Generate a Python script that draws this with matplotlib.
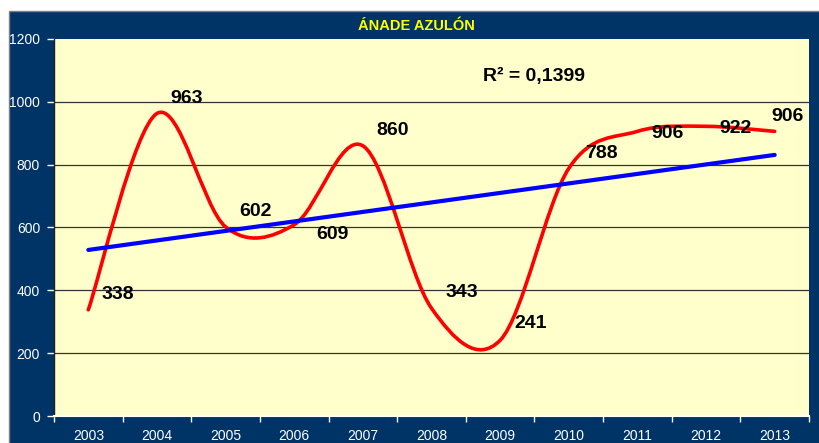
import numpy as np
import matplotlib
matplotlib.use("Agg")
import matplotlib.pyplot as plt
from matplotlib.patches import Rectangle
from matplotlib.path import Path
from matplotlib.patches import PathPatch

# ---- data ----
years = ["2003", "2004", "2005", "2006", "2007", "2008", "2009", "2010", "2011", "2012", "2013"]
values = [338, 963, 602, 609, 860, 343, 241, 788, 906, 922, 906]
title = "ÁNADE AZULÓN"
yticks = [0, 200, 400, 600, 800, 1000, 1200]

# label offsets (pixels, right / up) for each data label
label_dx = [30, 30, 30, 38, 30, 30, 30, 33, 30, 29, 13]
label_dy = [15, 15, 15, -10, 15, 16, 17, 15, -2, -2, 15]

W, H = 819, 443
fig = plt.figure(figsize=(W / 100, H / 100), dpi=100)
fig.patch.set_facecolor("white")

# blue panel
panel = Rectangle((9 / W, -0.01), 1.0, 1 - 11 / H + 0.01, transform=fig.transFigure,
                  facecolor="#003366", edgecolor="#7f7f7f", linewidth=1.0, zorder=-5)
fig.patches.append(panel)

left, top, right, bottom = 54, 39, 809, 416
ax = fig.add_axes([left / W, (H - bottom) / H, (right - left) / W, (bottom - top) / H])
ax.set_zorder(2)
ax.set_facecolor("#FFFFCC")

n = len(values)
x = np.arange(n) + 0.5
y = np.array(values, dtype=float)

# Excel-like smoothed line (Catmull-Rom Bezier)
pts = np.column_stack([x, y])
verts = [tuple(pts[0])]
codes = [Path.MOVETO]
for i in range(n - 1):
    p0 = pts[i - 1] if i > 0 else pts[i]
    p1 = pts[i]
    p2 = pts[i + 1]
    p3 = pts[i + 2] if i + 2 < n else pts[i + 1]
    c1 = p1 + (p2 - p0) / 6.0
    c2 = p2 - (p3 - p1) / 6.0
    verts += [tuple(c1), tuple(c2), tuple(p2)]
    codes += [Path.CURVE4] * 3
ax.add_patch(PathPatch(Path(verts, codes), facecolor="none", edgecolor="#FF0000",
                       linewidth=2.6, zorder=3, capstyle="round"))

# linear trend
xi = np.arange(n)
slope, intercept = np.polyfit(xi, y, 1)
trend = slope * xi + intercept
r2 = 1 - np.sum((y - trend) ** 2) / np.sum((y - y.mean()) ** 2)
ax.plot([x[0], x[-1]], [trend[0], trend[-1]], color="#0000FF", linewidth=3.0, zorder=4,
        solid_capstyle="round")

# data labels
for xv, yv, v, dx, dy in zip(x, y, values, label_dx, label_dy):
    ax.annotate(str(v), (xv, yv), xytext=(dx, dy), textcoords="offset pixels",
                ha="center", va="center", fontsize=14, fontweight="bold",
                family="Liberation Sans", color="black", zorder=5)

# R^2 text
ax.text(534 / W * 0 + (534 - left) / (right - left), (bottom - 76) / (bottom - top),
        "R² = " + f"{r2:.4f}".replace(".", ","), transform=ax.transAxes,
        ha="center", va="center", fontsize=14, fontweight="bold",
        family="Liberation Sans", color="black", zorder=6)

# title
fig.text(416 / W, 1 - 26 / H, title, ha="center", va="center", fontsize=10.5,
         fontweight="bold", family="Liberation Sans", color="#FFFF00")

ax.set_xlim(0, n)
ax.set_ylim(0, 1200)
ax.set_yticks(yticks)
ax.set_yticklabels([str(t) for t in yticks])
ax.set_xticks(np.arange(n + 1))
ax.set_xticklabels([])
ax.set_xticks(x, minor=True)
ax.set_xticklabels(years, minor=True)
ax.tick_params(axis="x", which="major", length=4, width=1, color="white", direction="out")
ax.tick_params(axis="x", which="minor", length=0, pad=9, labelsize=10, labelcolor="white")
ax.tick_params(axis="y", length=5, width=1, color="white", direction="out", pad=5,
               labelsize=10, labelcolor="white")
for lab in ax.get_xticklabels(minor=True) + ax.get_yticklabels():
    lab.set_family("Liberation Sans")

for yv in yticks[1:-1]:
    ax.axhline(yv, color="#333333", linewidth=0.9, zorder=1)

for s in ["top", "right"]:
    ax.spines[s].set_visible(False)
ax.spines["left"].set_color("#222222")
ax.spines["left"].set_linewidth(1.0)
ax.spines["bottom"].set_color("white")
ax.spines["bottom"].set_linewidth(1.5)

fig.savefig("out.png", dpi=100, facecolor=fig.get_facecolor())
